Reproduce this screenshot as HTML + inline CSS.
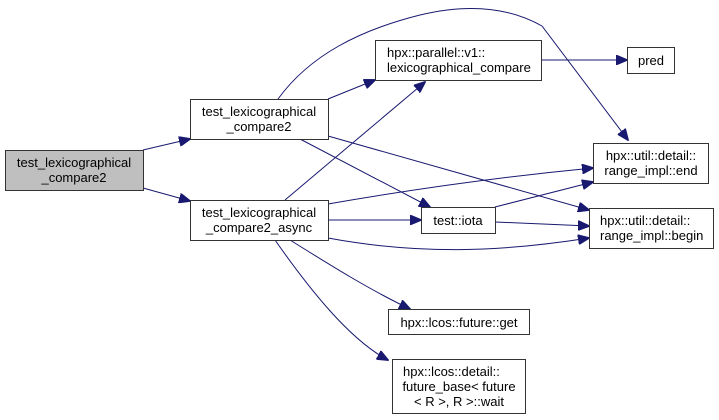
<!DOCTYPE html>
<html><head><style>
body{margin:0;background:#fff;width:719px;height:420px;overflow:hidden}
svg{display:block}
text{font-family:"Liberation Sans",Arial,sans-serif;font-size:13px;fill:#000}
rect{stroke:#333;stroke-width:1;fill:#fff}
path{fill:none;stroke:#191970;stroke-width:1}
</style></head><body>
<svg width="719" height="420" viewBox="0 0 719 420">
<defs><marker id="a" markerWidth="12" markerHeight="10" refX="11" refY="5" orient="auto" markerUnits="userSpaceOnUse"><path d="M0,0 L12,5 L0,10 z" style="fill:#191970;stroke:#191970"/></marker></defs>
<g marker-end="url(#a)">
<path d="M143,150 L190,139"/>
<path d="M143,188 L190,201"/>
<path d="M328,99 L375,80"/>
<path d="M328,136 L589,210"/>
<path d="M300,139 L430,207"/>
<path d="M278,99 C310,55 360,30 420,15 C470,3 510,8 542,26 L628,140"/>
<path d="M285,200 L425,82"/>
<path d="M328,204 C420,188 510,176 593,168"/>
<path d="M328,220 L421,220"/>
<path d="M328,238 C420,255 500,252 589,238"/>
<path d="M290,240 C330,265 370,290 410,309"/>
<path d="M275,240 C310,290 350,340 388,360"/>
<path d="M495,207 L593,182"/>
<path d="M495,222 L589,226"/>
<path d="M541,60 L627,60"/>
</g>
<rect x="5.5" y="150.5" width="138" height="40" style="fill:#bfbfbf"/>
<text x="74" y="167" text-anchor="middle">test_lexicographical</text>
<text x="74" y="182" text-anchor="middle">_compare2</text>
<rect x="190.5" y="99.5" width="138" height="40"/>
<text x="259" y="116" text-anchor="middle">test_lexicographical</text>
<text x="259" y="131" text-anchor="middle">_compare2</text>
<rect x="190.5" y="200.5" width="138" height="40"/>
<text x="259" y="217" text-anchor="middle">test_lexicographical</text>
<text x="259" y="232" text-anchor="middle">_compare2_async</text>
<rect x="375.5" y="40.5" width="166" height="40"/>
<text x="387" y="57">hpx::parallel::v1::</text>
<text x="387" y="72">lexicographical_compare</text>
<rect x="627.5" y="47.5" width="47" height="26"/>
<text x="651" y="65" text-anchor="middle">pred</text>
<rect x="593.5" y="143.5" width="115" height="40"/>
<text x="651" y="160" text-anchor="middle">hpx::util::detail::</text>
<text x="651" y="175" text-anchor="middle">range_impl::end</text>
<rect x="589.5" y="208.5" width="124" height="40"/>
<text x="600" y="225">hpx::util::detail::</text>
<text x="600" y="240">range_impl::begin</text>
<rect x="421.5" y="207.5" width="74" height="26"/>
<text x="458" y="225" text-anchor="middle">test::iota</text>
<rect x="388.5" y="309.5" width="141" height="25"/>
<text x="459" y="327" text-anchor="middle">hpx::lcos::future::get</text>
<rect x="392.5" y="359.5" width="133" height="54"/>
<text x="403" y="376">hpx::lcos::detail::</text>
<text x="459" y="391" text-anchor="middle">future_base&lt; future</text>
<text x="459" y="406" text-anchor="middle">&lt; R &gt;, R &gt;::wait</text>
</svg>
</body></html>
